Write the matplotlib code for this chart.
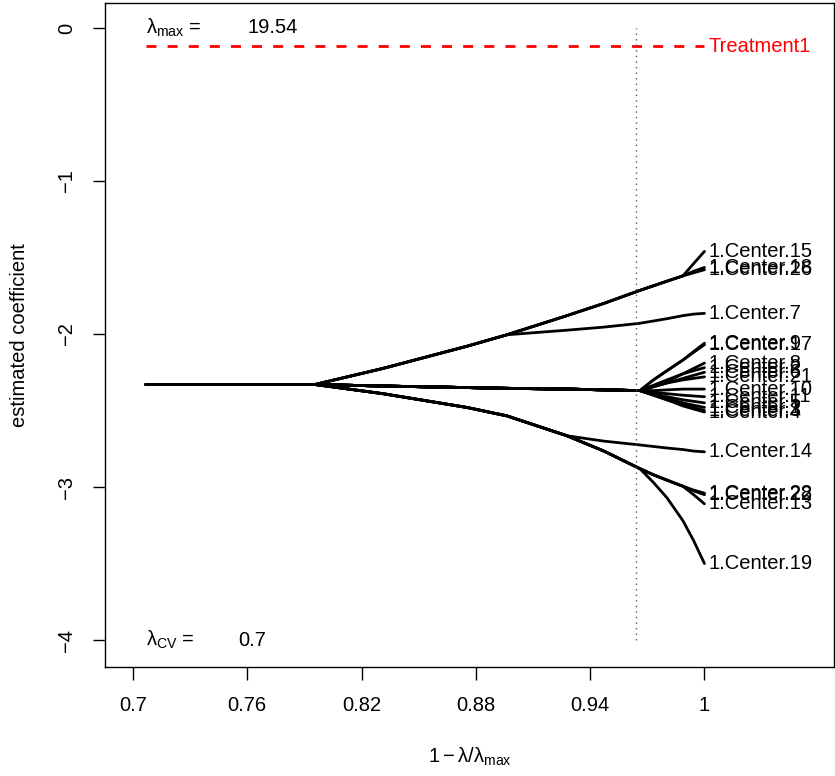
import matplotlib
matplotlib.use("Agg")
import matplotlib.pyplot as plt

plt.rcParams['font.family'] = ['Liberation Sans', 'DejaVu Sans']
plt.rcParams['mathtext.fontset'] = 'custom'
plt.rcParams['mathtext.rm'] = 'Liberation Sans'
plt.rcParams['mathtext.it'] = 'Liberation Sans'
plt.rcParams['mathtext.sf'] = 'Liberation Sans'

# grid of 1 - lambda/lambda_max values
grid = [0.7068, 0.7955, 0.8312, 0.8753, 0.8963, 0.9278, 0.9472, 0.9661, 0.9732, 0.9803, 0.9887, 0.9943, 1.0]

treatment = [-0.118] * len(grid)

coef = {
    "1.Center.15": [-2.33, -2.33, -2.225, -2.08, -2.005, -1.88, -1.80, -1.715, -1.685, -1.655, -1.62, -1.54, -1.46],
    "1.Center.18": [-2.33, -2.33, -2.225, -2.08, -2.005, -1.88, -1.80, -1.715, -1.685, -1.655, -1.62, -1.59, -1.565],
    "1.Center.26": [-2.33, -2.33, -2.225, -2.08, -2.005, -1.88, -1.80, -1.715, -1.685, -1.655, -1.62, -1.60, -1.58],
    "1.Center.7":  [-2.33, -2.33, -2.225, -2.08, -2.005, -1.975, -1.955, -1.93, -1.915, -1.90, -1.88, -1.87, -1.865],
    "1.Center.9":  [-2.33, -2.33, -2.34, -2.35, -2.355, -2.36, -2.365, -2.37, -2.30, -2.24, -2.17, -2.115, -2.06],
    "1.Center.17": [-2.33, -2.33, -2.34, -2.35, -2.355, -2.36, -2.365, -2.37, -2.30, -2.24, -2.17, -2.12, -2.07],
    "1.Center.8":  [-2.33, -2.33, -2.34, -2.35, -2.355, -2.36, -2.365, -2.37, -2.335, -2.30, -2.26, -2.225, -2.19],
    "1.Center.2":  [-2.33, -2.33, -2.34, -2.35, -2.355, -2.36, -2.365, -2.37, -2.34, -2.31, -2.26, -2.24, -2.22],
    "1.Center.6":  [-2.33, -2.33, -2.34, -2.35, -2.355, -2.36, -2.365, -2.37, -2.345, -2.32, -2.29, -2.27, -2.25],
    "1.Center.21": [-2.33, -2.33, -2.34, -2.35, -2.355, -2.36, -2.365, -2.37, -2.345, -2.32, -2.30, -2.29, -2.28],
    "1.Center.10": [-2.33, -2.33, -2.34, -2.35, -2.355, -2.36, -2.365, -2.37, -2.37, -2.365, -2.36, -2.36, -2.36],
    "1.Center.11": [-2.33, -2.33, -2.34, -2.35, -2.355, -2.36, -2.365, -2.37, -2.38, -2.39, -2.40, -2.405, -2.41],
    "1.Center.5":  [-2.33, -2.33, -2.34, -2.35, -2.355, -2.36, -2.365, -2.37, -2.39, -2.41, -2.43, -2.44, -2.45],
    "1.Center.1":  [-2.33, -2.33, -2.34, -2.35, -2.355, -2.36, -2.365, -2.37, -2.395, -2.42, -2.45, -2.465, -2.48],
    "1.Center.3":  [-2.33, -2.33, -2.34, -2.35, -2.355, -2.36, -2.365, -2.37, -2.40, -2.43, -2.46, -2.48, -2.50],
    "1.Center.4":  [-2.33, -2.33, -2.34, -2.35, -2.355, -2.36, -2.365, -2.37, -2.40, -2.43, -2.47, -2.49, -2.51],
    "1.Center.14": [-2.33, -2.33, -2.39, -2.48, -2.535, -2.665, -2.70, -2.725, -2.735, -2.745, -2.755, -2.765, -2.77],
    "1.Center.22": [-2.33, -2.33, -2.39, -2.48, -2.535, -2.665, -2.765, -2.88, -2.92, -2.955, -2.995, -3.025, -3.05],
    "1.Center.28": [-2.33, -2.33, -2.39, -2.48, -2.535, -2.665, -2.765, -2.88, -2.92, -2.955, -2.995, -3.02, -3.04],
    "1.Center.13": [-2.33, -2.33, -2.39, -2.48, -2.535, -2.665, -2.765, -2.88, -2.92, -2.955, -2.995, -3.05, -3.11],
    "1.Center.19": [-2.33, -2.33, -2.39, -2.48, -2.535, -2.665, -2.765, -2.88, -2.97, -3.07, -3.22, -3.35, -3.50],
}

lambda_max = 19.54
lambda_cv = 0.7
cv_x = 1 - lambda_cv / lambda_max

xticks = [0.7, 0.76, 0.82, 0.88, 0.94, 1.0]
xtick_labels = ["0.7", "0.76", "0.82", "0.88", "0.94", "1"]
yticks = [0, -1, -2, -3, -4]
ytick_labels = ["0", "\u22121", "\u22122", "\u22123", "\u22124"]

FS = 14.5

fig = plt.figure(figsize=(8.35, 7.76), dpi=100)
ax = fig.add_axes([105/835, (776-667)/776, (834-105)/835, (667-3)/776])

for name, vals in coef.items():
    ax.plot(grid, vals, color='black', lw=2.0, solid_capstyle='round', solid_joinstyle='round')
    ax.text(grid[-1] + 0.002, vals[-1], name, ha='left', va='center', fontsize=FS, color='black')

ax.plot(grid, treatment, color='red', lw=2.0, dashes=(3.6, 4.0))
ax.text(grid[-1] + 0.002, treatment[-1], "Treatment1", ha='left', va='center', fontsize=FS, color='red')

ax.vlines(cv_x, -4, 0, color='#555555', lw=1.0, linestyle=(0, (1, 3)))

ax.set_xlim(0.6853, 1.068)
ax.set_ylim(-4.176, 0.163)

ax.set_xticks(xticks)
ax.set_xticklabels(xtick_labels, fontsize=FS)
ax.set_yticks(yticks)
ax.set_yticklabels(ytick_labels, fontsize=FS, rotation=90, va='center')
ax.tick_params(axis='both', direction='out', length=9, width=1.0, pad=12)
for s in ax.spines.values():
    s.set_linewidth(1.0)

ax.set_xlabel(r'$1-\lambda/\lambda_{\mathrm{max}}$', fontsize=FS, labelpad=22)
ax.set_ylabel('estimated coefficient', fontsize=FS, labelpad=20)

ax.text(0.7068, 0.0, r'$\lambda_{\mathrm{max}}$ =', fontsize=FS, ha='left', va='center')
ax.text(0.7600, 0.0, f"{lambda_max:.2f}", fontsize=FS, ha='left', va='center')
ax.text(0.7068, -4.0, r'$\lambda_{\mathrm{CV}}$ =', fontsize=FS, ha='left', va='center')
ax.text(0.7550, -4.0, f"{lambda_cv}", fontsize=FS, ha='left', va='center')

fig.savefig("out.png", dpi=100)
